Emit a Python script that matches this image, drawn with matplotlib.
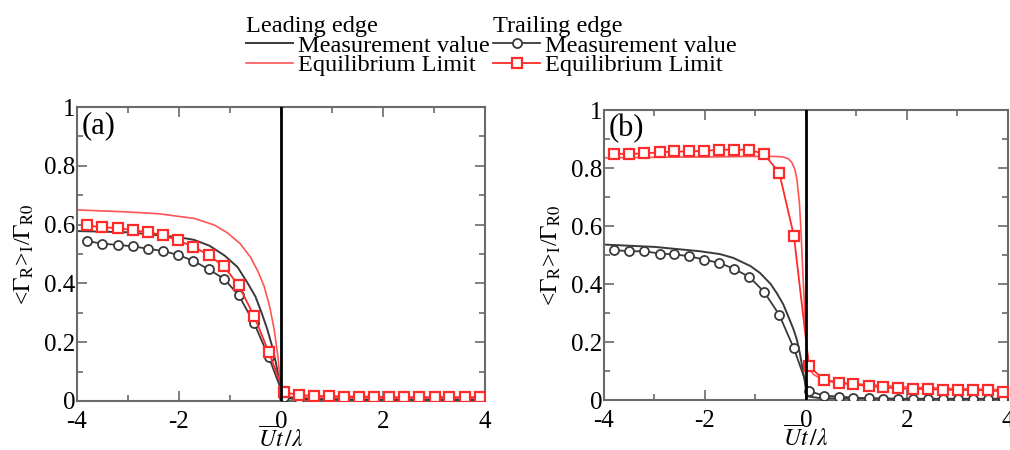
import matplotlib
matplotlib.use("Agg")
import matplotlib.pyplot as plt
from matplotlib.ticker import MultipleLocator

plt.rcParams["font.family"] = ["Liberation Serif", "DejaVu Serif"]
plt.rcParams["mathtext.fontset"] = "stix"
plt.rcParams["axes.unicode_minus"] = False

# marker positions (Ut/lambda) shared by the trailing-edge series
x_markers = [-3.8, -3.5, -3.2, -2.9, -2.61, -2.31, -2.02, -1.72, -1.42, -1.12, -0.83, -0.53, -0.24,
             0.06, 0.35, 0.65, 0.94, 1.24, 1.53, 1.83, 2.12, 2.42, 2.71, 3.01, 3.3, 3.6, 3.9]

# panel (a)
a_lead_meas_x = [-4, -3, -2, -1.7, -1.4, -1.1, -0.85, -0.65, -0.5, -0.38, -0.27, -0.18, -0.1, -0.04,
                 0.0, 0.05, 0.3, 1, 2, 3, 4]
a_lead_meas_y = [0.578, 0.574, 0.557, 0.548, 0.528, 0.494, 0.455, 0.40, 0.355, 0.30, 0.245, 0.19, 0.13, 0.075,
                 0.045, 0.012, 0.006, 0.005, 0.004, 0.004, 0.004]
a_lead_eq_x = [-4, -3, -2.4, -1.7, -1.3, -1.05, -0.8, -0.6, -0.45, -0.33, -0.22, -0.13, -0.06, -0.02,
               0.02, 0.1, 0.5, 1, 2, 3, 4]
a_lead_eq_y = [0.650, 0.643, 0.637, 0.621, 0.598, 0.572, 0.535, 0.49, 0.44, 0.39, 0.32, 0.24, 0.15, 0.08,
               0.03, 0.015, 0.012, 0.011, 0.01, 0.01, 0.01]
a_trail_meas = [0.544, 0.535, 0.531, 0.526, 0.518, 0.510, 0.497, 0.477, 0.448, 0.416, 0.360, 0.266, 0.150,
                0.012, 0.008, 0.006, 0.005, 0.005, 0.004, 0.004, 0.004, 0.004, 0.004, 0.004, 0.004, 0.004, 0.004]
a_trail_eq = [0.597, 0.591, 0.588, 0.581, 0.574, 0.564, 0.546, 0.525, 0.497, 0.458, 0.393, 0.290, 0.166,
              0.030, 0.020, 0.017, 0.017, 0.015, 0.015, 0.015, 0.013, 0.013, 0.013, 0.013, 0.013, 0.013, 0.013]

# panel (b)
b_lead_meas_x = [-4, -3, -2.1, -1.7, -1.44, -1.1, -0.91, -0.7, -0.58, -0.45, -0.35, -0.25, -0.18, -0.12,
                 -0.06, -0.02, 0.0, 0.05, 0.3, 1, 2, 3, 4]
b_lead_meas_y = [0.536, 0.528, 0.513, 0.503, 0.49, 0.462, 0.438, 0.40, 0.369, 0.33, 0.288, 0.245, 0.208, 0.16,
                 0.10, 0.06, 0.035, 0.012, 0.006, 0.005, 0.004, 0.004, 0.004]
b_lead_eq_x = [-4, -3, -2, -1, -0.6, -0.45, -0.35, -0.28, -0.22, -0.18, -0.13, -0.1, -0.07, -0.04, 0.0,
               0.03, 0.06, 0.1, 0.15, 0.25, 0.4, 0.8, 1.5, 2.1, 3, 4]
b_lead_eq_y = [0.835, 0.837, 0.838, 0.84, 0.84, 0.838, 0.832, 0.819, 0.795, 0.761, 0.68, 0.588, 0.47, 0.36, 0.22,
               0.15, 0.12, 0.10, 0.088, 0.078, 0.069, 0.058, 0.05, 0.044, 0.039, 0.035]
b_trail_meas = [0.517, 0.513, 0.513, 0.505, 0.502, 0.496, 0.484, 0.473, 0.452, 0.424, 0.373, 0.294, 0.178,
                0.031, 0.015, 0.012, 0.008, 0.006, 0.005, 0.004, 0.004, 0.004, 0.004, 0.004, 0.004, 0.004, 0.004]
b_trail_eq = [0.850, 0.848, 0.851, 0.854, 0.857, 0.857, 0.859, 0.863, 0.863, 0.863, 0.848, 0.784, 0.567,
              0.118, 0.069, 0.058, 0.054, 0.048, 0.044, 0.040, 0.038, 0.038, 0.035, 0.035, 0.034, 0.034, 0.029]

BLACK = "#3a3a3a"
RED = "#ff2a2a"
SPINE = "#6a6a6a"

fig = plt.figure(figsize=(10.1, 4.5), dpi=100)
ax_a = fig.add_axes([0.0762, 0.1089, 0.404, 0.6533])
ax_b = fig.add_axes([0.598, 0.1111, 0.400, 0.6444])

panels = [
    (ax_a, "(a)", a_lead_meas_x, a_lead_meas_y, a_lead_eq_x, a_lead_eq_y, a_trail_meas, a_trail_eq),
    (ax_b, "(b)", b_lead_meas_x, b_lead_meas_y, b_lead_eq_x, b_lead_eq_y, b_trail_meas, b_trail_eq),
]

for ax, tag, lmx, lmy, lex, ley, tm, te in panels:
    h1, = ax.plot(lmx, lmy, color=BLACK, lw=1.4, zorder=2)
    h2, = ax.plot(lex, ley, color=RED, lw=1.2, alpha=0.8, zorder=2)
    h3, = ax.plot(x_markers, tm, color=BLACK, lw=1.3, marker="o", ms=6.5, mfc="white",
                  mec=BLACK, mew=1.3, zorder=3)
    h4, = ax.plot(x_markers, te, color=RED, lw=1.3, marker="s", ms=6.5, mfc="white",
                  mec=RED, mew=1.6, zorder=4)
    ax.axvline(0, color="black", lw=2, zorder=5)

    ax.set_xlim(-4, 4)
    ax.set_ylim(0, 1)
    ax.xaxis.set_minor_locator(MultipleLocator(1))
    ax.yaxis.set_minor_locator(MultipleLocator(0.1))
    ax.set_yticks([0, 0.2, 0.4, 0.6, 0.8, 1.0])
    ax.set_yticklabels(["0", "0.2", "0.4", "0.6", "0.8", "1"])
    ax.set_xticks([-4, -2, 0, 2, 4])
    ax.set_xticklabels(["-4", "-2", "0", "2", "4"])
    ax.tick_params(which="both", direction="in", top=True, right=True, color=SPINE, width=1.2,
                   labelsize=18)
    ax.tick_params(axis="y", pad=1)
    ax.tick_params(axis="x", pad=7)
    ax.tick_params(which="major", length=7)
    ax.tick_params(which="minor", length=4)
    for s in ax.spines.values():
        s.set_color(SPINE)
        s.set_linewidth(1.5)

    ax.set_ylabel("<" + r"$\Gamma_{\rm R}$" + ">" + r"$_{\rm I}$" + "/" + r"$\Gamma_{\rm R0}$",
                  fontsize=17, labelpad=6)
    ax.set_xlabel(r"$\overline{U}t\,/\lambda$", fontsize=17, labelpad=-5)
    ax.text(0.012, 0.985, tag, transform=ax.transAxes, fontsize=22, va="top", ha="left")

for handles, title, x0 in [([h1, h2], "Leading edge", 0.236), ([h3, h4], "Trailing edge", 0.481)]:
    fig.legend(handles, ["Measurement value", "Equilibrium Limit"], title=title,
               loc="upper left", bbox_to_anchor=(x0, 0.98), frameon=False, fontsize=17.5,
               title_fontsize=17.5, alignment="left", handlelength=1.95, handletextpad=0.2,
               labelspacing=-0.1, borderpad=0.3, borderaxespad=0)

fig.savefig("out.png", dpi=100)
